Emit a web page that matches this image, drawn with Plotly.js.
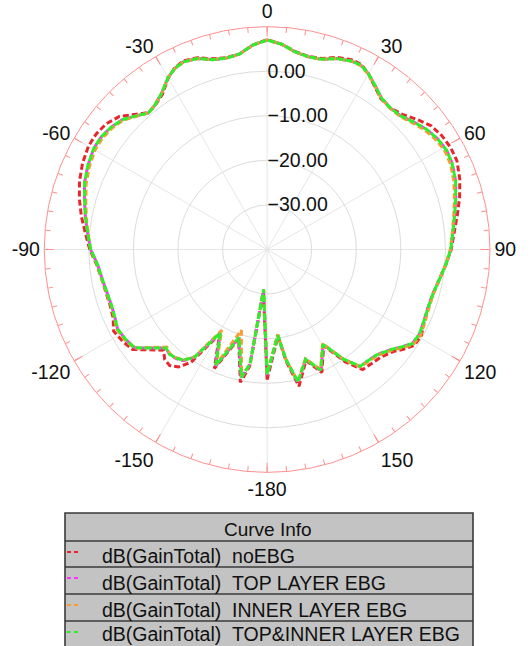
<!DOCTYPE html>
<html><head><meta charset="utf-8">
<script src="https://cdn.plot.ly/plotly-3.0.1.min.js"></script>
<style>html,body{margin:0;padding:0;background:#fff;} #chart{width:530px;height:646px;}</style>
</head><body><div id="chart"></div>
<script>
// Angles (deg) of the sampled pattern, shared by all curves
const theta = [-180, -175, -171.5, -168.6, -162.3, -156.1, -150.7, -146, -143, -140, -137, -134.2, -126.6, -122.5, -118, -114, -110, -105, -100, -95, -90, -85, -80, -75, -70, -65, -60, -56, -52, -48, -44, -41, -38, -34, -30, -27, -24, -20, -16, -12, -8, -4, 0, 4, 8, 12, 16, 20, 24, 27, 30, 33, 37, 41, 45, 49, 53, 57, 61, 65, 70, 75, 80, 85, 90, 95, 100, 105, 110, 115, 119, 123, 126, 129, 133.5, 137.5, 141.5, 145.2, 149.5, 156, 160.7, 166.9, 170.3, 172.9, 180];
// dB(GainTotal) noEBG
const noEBG = [-10.8, -30.5, -13.5, -9.6, -19.0, -10.8, -18.2, -9.5, -7.0, -6.0, -6.3, -7.6, -2.4, -1.6, -1.0, -2.2, -2.6, -2.6, -2.3, -1.6, -0.2, 0.9, 2.3, 3.6, 4.8, 5.7, 6.3, 6.3, 5.8, 4.6, 2.2, 0.7, 0.9, 2.0, 4.4, 5.7, 6.3, 5.8, 4.5, 4.0, 4.3, 6.0, 7.1, 6.2, 4.9, 4.3, 4.6, 5.9, 6.6, 6.6, 5.5, 4.0, 2.4, 2.1, 2.9, 4.5, 6.1, 6.8, 7.1, 7.0, 6.0, 4.7, 3.3, 2.1, 1.3, 0.2, -0.8, -1.5, -1.6, -1.2, -0.4, -0.6, -2.0, -3.6, -4.9, -5.3, -5.6, -9.3, -15.0, -9.8, -13.6, -8.5, -14.5, -20.4, -10.8];
// dB(GainTotal) TOP LAYER EBG
const topEBG = [-11.8, -31.0, -14.0, -10.5, -19.3, -11.4, -18.5, -10.8, -8.8, -8.1, -7.9, -8.3, -3.0, -2.4, -2.0, -2.6, -2.9, -2.8, -2.4, -1.8, -0.4, 0.4, 1.4, 2.4, 3.6, 4.4, 5.0, 5.0, 4.5, 3.6, 1.8, 0.6, 1.0, 2.3, 4.5, 5.6, 6.1, 5.6, 4.3, 3.9, 4.3, 6.0, 7.0, 6.2, 4.8, 4.2, 4.4, 5.6, 6.3, 6.4, 5.5, 4.2, 2.6, 2.1, 2.4, 3.6, 4.8, 5.6, 6.0, 5.8, 5.0, 3.8, 2.7, 1.8, 1.2, 0.2, -0.8, -1.5, -1.6, -1.3, -0.9, -1.2, -2.8, -4.3, -5.8, -6.3, -6.4, -10.0, -15.3, -10.2, -13.9, -9.3, -15.0, -20.6, -11.8];
// dB(GainTotal) INNER LAYER EBG
const innerEBG = [-12.2, -31.0, -14.0, -10.9, -21.0, -11.8, -19.2, -11.0, -9.0, -8.3, -8.0, -8.6, -2.9, -2.2, -1.8, -2.5, -2.8, -2.7, -2.3, -1.7, -0.4, 0.3, 1.2, 2.1, 3.2, 4.0, 4.6, 4.6, 4.2, 3.4, 1.7, 0.6, 1.0, 2.3, 4.5, 5.6, 6.1, 5.6, 4.3, 3.9, 4.3, 6.0, 7.0, 6.2, 4.8, 4.2, 4.4, 5.6, 6.3, 6.3, 5.4, 4.1, 2.5, 2.0, 2.2, 3.3, 4.4, 5.2, 5.6, 5.4, 4.6, 3.5, 2.5, 1.7, 1.1, 0.2, -0.8, -1.4, -1.4, -1.0, -0.6, -0.9, -2.5, -4.1, -5.6, -6.1, -6.4, -10.0, -15.5, -10.5, -14.0, -9.6, -15.0, -20.8, -12.2];
// dB(GainTotal) TOP&INNER LAYER EBG
const bothEBG = [-12.0, -31.0, -14.0, -10.7, -19.3, -11.6, -18.5, -10.9, -8.9, -8.2, -7.9, -8.3, -3.0, -2.4, -2.0, -2.6, -2.9, -2.8, -2.4, -1.8, -0.4, 0.4, 1.4, 2.4, 3.6, 4.4, 5.0, 5.0, 4.5, 3.6, 1.8, 0.6, 1.0, 2.3, 4.5, 5.6, 6.1, 5.6, 4.3, 3.9, 4.3, 6.0, 7.0, 6.2, 4.8, 4.2, 4.4, 5.6, 6.3, 6.4, 5.5, 4.2, 2.6, 2.1, 2.4, 3.6, 4.8, 5.6, 6.0, 5.8, 5.0, 3.8, 2.7, 1.8, 1.2, 0.2, -0.8, -1.5, -1.6, -1.3, -0.9, -1.2, -2.8, -4.3, -5.8, -6.3, -6.5, -10.1, -15.3, -10.4, -13.9, -9.5, -15.0, -20.6, -12.0];

const seriesNames = ['dB(GainTotal)\u00a0\u00a0noEBG', 'dB(GainTotal)\u00a0\u00a0TOP LAYER EBG', 'dB(GainTotal)\u00a0\u00a0INNER LAYER EBG', 'dB(GainTotal)\u00a0\u00a0TOP&INNER LAYER EBG'];
const seriesData = [noEBG, topEBG, innerEBG, bothEBG];
const seriesColors = ['#e8262e', '#ff33ff', '#ff9a33', '#2cf02c'];
const angleTickVals = [0, 30, 60, 90, 120, 150, 180, 210, 240, 270, 300, 330];
const angleTickText = ['0', '30', '60', '90', '120', '150', '-180', '-150', '-120', '-90', '-60', '-30'];
const minorTickVals = Array.from({length: 72}, (_, i) => i * 5);
const radialTickVals = [-30, -20, -10, 0];
const radialRange = [-40, 10];
const legendTitle = 'Curve Info';

const FONT = 'Liberation Sans, Arial, sans-serif';
const PINK = '#ff9090';

const traces = seriesData.map((r, i) => ({
  type: 'scatterpolar', mode: 'lines', r: r, theta: theta, name: seriesNames[i],
  subplot: 'polar', showlegend: false, hoverinfo: 'skip',
  line: {color: seriesColors[i], width: 3, dash: i === 3 ? '7px,2px' : '6px,3px'}
}));
traces.push({type: 'scatterpolar', r: [], theta: [], subplot: 'polar2', showlegend: false});

const dom = {x: [0.0835, 0.9245], y: [0.2685, 0.959]};

// legend table (HFSS "Curve Info")
const tx0 = 65 / 530, tx1 = 473 / 530;
const rowTop = [513, 541, 567, 594, 621, 660];
const rowText = [556, 582.5, 609.5, 634];
const py = v => 1 - v / 646;
const shapes = [{type: 'rect', xref: 'paper', yref: 'paper', x0: tx0, x1: tx1, y0: py(660), y1: py(513),
  fillcolor: '#c3c3c3', line: {color: '#3a3a3a', width: 1.6}}];
for (let k = 1; k < 5; k++) {
  shapes.push({type: 'line', xref: 'paper', yref: 'paper', x0: tx0, x1: tx1, y0: py(rowTop[k]), y1: py(rowTop[k]),
    line: {color: '#3a3a3a', width: 1.6}});
}
const annotations = [{xref: 'paper', yref: 'paper', x: 268 / 530, y: py(529), text: legendTitle, showarrow: false,
  xanchor: 'center', yanchor: 'middle', font: {family: FONT, size: 19, color: '#111'}}];
seriesNames.forEach((nm, i) => {
  const yc = rowText[i];
  shapes.push({type: 'line', xref: 'paper', yref: 'paper', x0: 67 / 530, x1: 81 / 530, y0: py(rowTop[i + 1] + 11), y1: py(rowTop[i + 1] + 11),
    line: {color: seriesColors[i], width: 2, dash: '4px,3px'}});
  annotations.push({xref: 'paper', yref: 'paper', x: 100 / 530, y: py(yc), text: nm, showarrow: false,
    xanchor: 'left', yanchor: 'middle', font: {family: FONT, size: 19.5, color: '#111'}});
});

const layout = {
  width: 530, height: 646, margin: {l: 0, r: 0, t: 0, b: 0},
  paper_bgcolor: '#ffffff', showlegend: false,
  font: {family: FONT, size: 19, color: '#111'},
  polar: {
    domain: dom, bgcolor: '#ffffff',
    angularaxis: {direction: 'clockwise', rotation: 90, tickmode: 'array', tickvals: angleTickVals, ticktext: angleTickText,
      ticks: 'inside', ticklen: 9, tickcolor: PINK, showline: true, linecolor: PINK, linewidth: 1,
      showgrid: true, gridcolor: '#e6e6e6', gridwidth: 1, tickfont: {family: FONT, size: 19.5, color: '#111'}},
    radialaxis: {range: radialRange, angle: 90, tickmode: 'array', tickvals: radialTickVals, tickformat: '.2f',
      ticks: '', showline: false, showgrid: true, gridcolor: '#dcdcdc', gridwidth: 1, tickangle: 90, side: 'clockwise',
      tickfont: {family: FONT, size: 19.5, color: '#111'}}
  },
  polar2: {
    domain: dom, bgcolor: 'rgba(0,0,0,0)',
    angularaxis: {direction: 'clockwise', rotation: 90, tickmode: 'array', tickvals: minorTickVals,
      ticks: 'inside', ticklen: 5, tickcolor: PINK, showticklabels: false, showline: false, showgrid: false},
    radialaxis: {visible: false, range: radialRange}
  },
  shapes: shapes, annotations: annotations
};

Plotly.newPlot('chart', traces, layout, {displayModeBar: false, staticPlot: true});
</script></body></html>
